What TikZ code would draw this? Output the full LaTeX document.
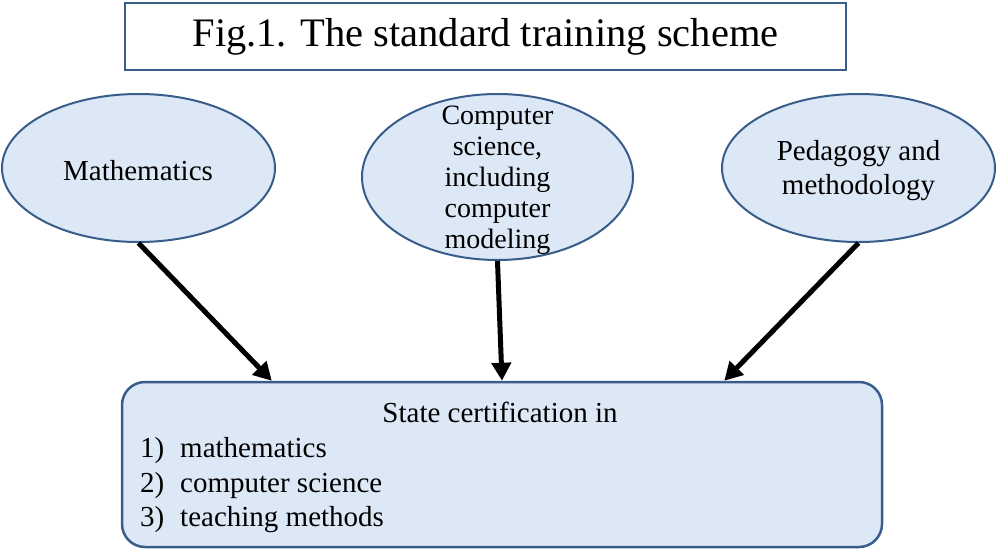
\documentclass[tikz,border=0pt]{standalone}
\usepackage{fontspec}
\setmainfont{Liberation Serif}
\usetikzlibrary{shapes.geometric,arrows.meta,calc}
\definecolor{fillblue}{RGB}{221,232,246}
\definecolor{edgeblue}{RGB}{56,93,138}
\begin{document}
\begin{tikzpicture}[x=1pt,y=-1pt,
  topic/.style={ellipse, draw=edgeblue, fill=fillblue, line width=2pt, inner sep=0pt},
  txt/.style={font=\fontsize{29}{31}\selectfont, inner sep=0pt},
  arr/.style={line width=5pt, -{Triangle[length=18pt,width=19pt]}}
]
\useasboundingbox (0,0) rectangle (996,552);
% title
\node[draw=edgeblue, line width=2.5pt, minimum width=721pt, minimum height=67pt,
      inner sep=0pt, font=\fontsize{40.5}{44}\selectfont] (title) at (485.5,36.5)
      {Fig.1. The standard training scheme};
% ellipses
\node[topic, minimum width=273pt, minimum height=148pt] (m) at (138.5,168) {};
\node[topic, minimum width=271pt, minimum height=166pt] (c) at (497.5,177) {};
\node[topic, minimum width=273pt, minimum height=148pt] (p) at (858.5,168) {};
\node[txt, anchor=base] (mt) at (138,180) {Mathematics};
\node[txt, font=\fontsize{28}{31}\selectfont, align=center] (ct) at (497.5,180)
  {Computer\\science,\\including\\computer\\modeling};
\node[txt, font=\fontsize{29}{34}\selectfont, align=center] (pt) at (858.5,171)
  {Pedagogy and\\methodology};
% certification box
\node[draw=edgeblue, fill=fillblue, line width=2.5pt, rounded corners=23pt,
      minimum width=760pt, minimum height=165pt, inner sep=0pt] (cert) at (502,464.5) {};
\node[txt, anchor=base] (ch) at (500,422) {State certification in};
\node[txt, anchor=base west] (n1) at (140,457) {1)};
\node[txt, anchor=base west] (i1) at (180,457) {mathematics};
\node[txt, anchor=base west] (n2) at (140,492) {2)};
\node[txt, anchor=base west] (i2) at (180,492) {computer science};
\node[txt, anchor=base west] (n3) at (140,526) {3)};
\node[txt, anchor=base west] (i3) at (180,526) {teaching methods};
% arrows
\coordinate (e1) at ($(cert.north west)+(151,0)$);
\coordinate (e3) at ($(cert.north east)+(-159,0)$);
\draw[arr] (m.south) -- (e1);
\draw[arr] (c.south) -- (cert.north);
\draw[arr] (p.south) -- (e3);
\end{tikzpicture}
\end{document}
